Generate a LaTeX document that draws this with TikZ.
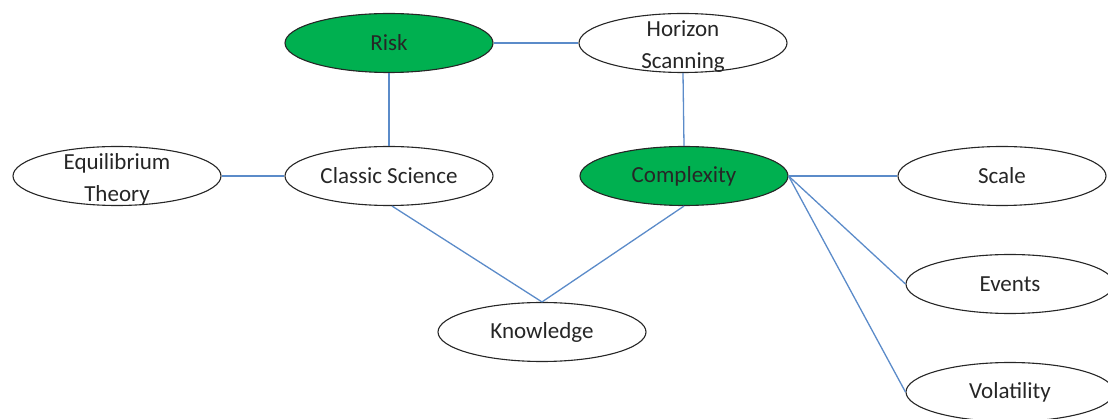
\documentclass[tikz,border=0pt]{standalone}
\usepackage{fontspec}
\setmainfont{Carlito}
\usetikzlibrary{shapes.geometric}
\definecolor{topicgreen}{HTML}{00B050}
\definecolor{linkblue}{HTML}{5B8BC9}
\definecolor{inkgray}{HTML}{262626}
\tikzset{
  concept/.style={ellipse, draw=inkgray, line width=1.1pt, fill=white,
    minimum width=208pt, minimum height=59pt, inner sep=0pt},
  keyconcept/.style={concept, fill=topicgreen},
  caption/.style={font=\fontsize{23}{32}\selectfont, text=inkgray, align=center},
  link/.style={draw=linkblue, line width=1.3pt}
}
\begin{document}
\begin{tikzpicture}[x=1pt, y=-1pt]
  \useasboundingbox (0,0) rectangle (1108,419);
  \clip (0,0) rectangle (1108,419);
  % concept ellipses
  \node[keyconcept] (risk) at (389,43) {};
  \node[concept] (horizon) at (683,43) {};
  \node[concept] (equil) at (117,176) {};
  \node[concept] (classic) at (389,176) {};
  \node[keyconcept] (complex) at (684,176) {};
  \node[concept] (scale) at (1002,176) {};
  \node[concept] (events) at (1010,284) {};
  \node[concept] (knowledge) at (542,332) {};
  \node[concept] (volatility) at (1010,392) {};
  % labels
  \node[caption] (riskT) at (risk) {Risk};
  \node[caption] (horizonT) at ([yshift=-4pt]horizon) {Horizon\\Scanning};
  \node[caption] (equilT) at ([yshift=-3pt]equil) {Equilibrium\\Theory};
  \node[caption] (classicT) at (classic) {Classic Science};
  \node[caption] (complexT) at (complex) {Complexity};
  \node[caption] (scaleT) at (scale) {Scale};
  \node[caption] (eventsT) at (events) {Events};
  \node[caption] (knowledgeT) at (knowledge) {Knowledge};
  \node[caption] (volatilityT) at (volatility) {Volatility};
  % connectors
  \path[link] (risk.east) -- (horizon.west);
  \path[link] (risk.south) -- (classic.north);
  \path[link] (horizon.south) -- (complex.north);
  \path[link] (equil.east) -- (classic.west);
  \path[link] (complex.east) -- (scale.west);
  \path[link] ([xshift=3pt]classic.south) -- (knowledge.north);
  \path[link] (complex.south) -- (knowledge.north);
  \path[link] (complex.east) -- (events.west);
  \path[link] (complex.east) -- (volatility.west);
\end{tikzpicture}
\end{document}
